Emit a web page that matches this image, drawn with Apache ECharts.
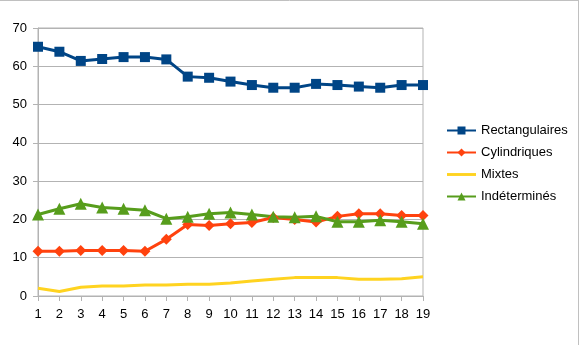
<!DOCTYPE html>
<html>
<head>
<meta charset="utf-8">
<script src="https://cdn.jsdelivr.net/npm/echarts@6/dist/echarts.min.js"></script>
<style>
  html, body { margin: 0; padding: 0; background: #fff; }
  #chart { width: 579px; height: 345px; }
</style>
</head>
<body>
<div id="chart"></div>
<script>
// Categories along the x axis
const categories = ['1','2','3','4','5','6','7','8','9','10','11','12','13','14','15','16','17','18','19'];

// Series values
const rectangulaires = [65.1, 63.8, 61.4, 61.9, 62.4, 62.4, 61.8, 57.3, 57.0, 56.0, 55.1, 54.4, 54.4, 55.4, 55.1, 54.7, 54.4, 55.1, 55.1];
const cylindriques   = [11.7, 11.7, 11.9, 11.9, 11.9, 11.7, 14.8, 18.7, 18.4, 18.9, 19.2, 20.5, 20.0, 19.3, 20.8, 21.5, 21.5, 21.0, 21.0];
const mixtes         = [2.0, 1.2, 2.3, 2.6, 2.6, 2.9, 2.9, 3.1, 3.1, 3.4, 3.9, 4.4, 4.8, 4.8, 4.8, 4.4, 4.4, 4.5, 5.0];
const indetermines   = [21.3, 22.8, 24.1, 23.1, 22.8, 22.4, 20.2, 20.7, 21.5, 21.8, 21.3, 20.7, 20.6, 20.8, 19.4, 19.4, 19.8, 19.4, 18.9];

const seriesNames = ['Rectangulaires', 'Cylindriques', 'Mixtes', 'Indéterminés'];
const colors = ['#004586', '#ff420e', '#ffd320', '#579d1c'];

const gridColor = '#b3b3b3';
const font = 'Liberation Sans, Arial, sans-serif';

const chart = echarts.init(document.getElementById('chart'), null, { renderer: 'canvas' });

function lineSeries(name, data, color, symbol, size) {
  const s = {
    name: name,
    type: 'line',
    data: data,
    symbol: symbol,
    lineStyle: { color: color, width: 3 },
    itemStyle: { color: color },
    animation: false
  };
  if (size) s.symbolSize = size;
  return s;
}

chart.setOption({
  animation: false,
  textStyle: { fontFamily: font },
  grid: {
    left: 38, right: 156, top: 28, bottom: 49,
    show: true, borderColor: gridColor, borderWidth: 1
  },
  legend: {
    orient: 'vertical',
    left: 446,
    top: 124,
    padding: 0,
    itemWidth: 29,
    itemHeight: 10,
    itemGap: 9,
    textStyle: { fontFamily: font, fontSize: 13, color: '#000' },
    data: [
      { name: seriesNames[0] },
      { name: seriesNames[1] },
      // plain stroke key for the series drawn without markers
      { name: seriesNames[2], icon: 'path://M0,0L30,0L30,3L0,3Z' },
      { name: seriesNames[3] }
    ]
  },
  xAxis: {
    type: 'category',
    data: categories,
    boundaryGap: false,
    axisLine: { lineStyle: { color: gridColor } },
    axisTick: { show: true, length: 5, lineStyle: { color: gridColor } },
    axisLabel: { color: '#000', fontSize: 13, fontFamily: font, margin: 12 },
    splitLine: { show: false }
  },
  yAxis: {
    type: 'value',
    min: 0, max: 70, interval: 10,
    axisLine: { show: true, lineStyle: { color: gridColor } },
    axisTick: { show: true, length: 5, lineStyle: { color: gridColor } },
    axisLabel: { color: '#000', fontSize: 13, fontFamily: font, margin: 11 },
    splitLine: { show: true, lineStyle: { color: gridColor } }
  },
  graphic: [
    { type: 'line', shape: { x1: 0, y1: 0.5, x2: 579, y2: 0.5 }, style: { stroke: '#c0c0c0', lineWidth: 1 } },
    { type: 'line', shape: { x1: 578.5, y1: 0, x2: 578.5, y2: 345 }, style: { stroke: '#c0c0c0', lineWidth: 1 } }
  ],
  series: [
    lineSeries(seriesNames[0], rectangulaires, colors[0], 'rect', 10),
    lineSeries(seriesNames[1], cylindriques, colors[1], 'diamond', 11),
    lineSeries(seriesNames[2], mixtes, colors[2], 'none'),
    lineSeries(seriesNames[3], indetermines, colors[3], 'triangle', 12)
  ]
});
</script>
</body>
</html>
